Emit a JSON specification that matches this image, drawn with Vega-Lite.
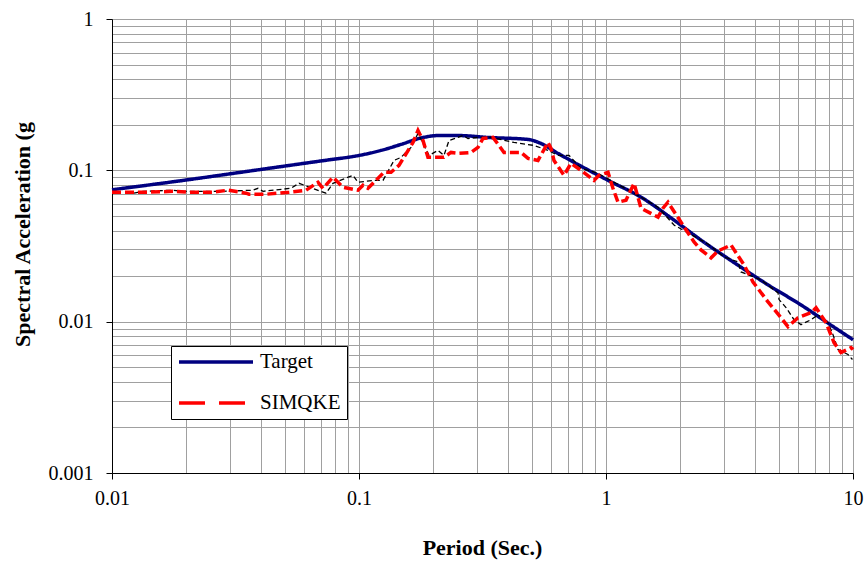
{
  "$schema": "https://vega.github.io/schema/vega-lite/v6.json",
  "width": 741,
  "height": 454,
  "autosize": "none",
  "padding": {"left": 112, "top": 19, "right": 15, "bottom": 95},
  "background": "white",
  "config": {
    "view": {"stroke": null},
    "font": "Liberation Serif",
    "axis": {
      "gridColor": "#a0a0a0",
      "gridWidth": 1,
      "gridOpacity": 1,
      "domainColor": "black",
      "domainWidth": 1,
      "tickColor": "black",
      "tickSize": 6,
      "labelFont": "Liberation Serif",
      "labelFontSize": 20,
      "labelColor": "black",
      "titleFont": "Liberation Serif",
      "titleFontSize": 22,
      "titleFontWeight": "bold",
      "titleColor": "black",
      "labelOverlap": false,
      "labelBound": false,
      "labelFlush": false
    },
    "legend": {
      "orient": "none",
      "legendX": 59,
      "legendY": 327,
      "title": null,
      "strokeColor": "black",
      "fillColor": "white",
      "padding": 6,
      "symbolType": "stroke",
      "symbolSize": 5476,
      "symbolStrokeWidth": 3.5,
      "labelFont": "Liberation Serif",
      "labelFontSize": 21,
      "labelColor": "black",
      "labelOffset": 5,
      "labelLimit": 300,
      "clipHeight": 20,
      "rowPadding": 20
    }
  },
  "datasets": {
    "target": [
      {"T": 0.01, "SA": 0.0744},
      {"T": 0.01994, "SA": 0.0863},
      {"T": 0.0401, "SA": 0.1014},
      {"T": 0.077, "SA": 0.1178},
      {"T": 0.0954, "SA": 0.1237},
      {"T": 0.1228, "SA": 0.1354},
      {"T": 0.1479, "SA": 0.1483},
      {"T": 0.1782, "SA": 0.1636},
      {"T": 0.21, "SA": 0.1698},
      {"T": 0.2518, "SA": 0.1698},
      {"T": 0.333, "SA": 0.1649},
      {"T": 0.4834, "SA": 0.16},
      {"T": 0.5455, "SA": 0.1505},
      {"T": 0.6393, "SA": 0.1294},
      {"T": 0.742, "SA": 0.1129},
      {"T": 1.019, "SA": 0.0859},
      {"T": 1.386, "SA": 0.0665},
      {"T": 1.885, "SA": 0.0469},
      {"T": 2.424, "SA": 0.0346},
      {"T": 3.297, "SA": 0.0246},
      {"T": 4.529, "SA": 0.0175},
      {"T": 6.159, "SA": 0.0129},
      {"T": 8.378, "SA": 0.0092},
      {"T": 10, "SA": 0.0076}
    ],
    "simqke": [
      {"T": 0.01, "SA": 0.0717},
      {"T": 0.01216, "SA": 0.0717},
      {"T": 0.01412, "SA": 0.0717},
      {"T": 0.01766, "SA": 0.0727},
      {"T": 0.0203, "SA": 0.0717},
      {"T": 0.02564, "SA": 0.0717},
      {"T": 0.02949, "SA": 0.0739},
      {"T": 0.03487, "SA": 0.0706},
      {"T": 0.03586, "SA": 0.0695},
      {"T": 0.04203, "SA": 0.0695},
      {"T": 0.05207, "SA": 0.0717},
      {"T": 0.061, "SA": 0.0739},
      {"T": 0.06823, "SA": 0.0834},
      {"T": 0.07149, "SA": 0.0761},
      {"T": 0.07846, "SA": 0.0899},
      {"T": 0.08613, "SA": 0.0773},
      {"T": 0.09024, "SA": 0.0761},
      {"T": 0.0991, "SA": 0.0739},
      {"T": 0.1038, "SA": 0.0797},
      {"T": 0.1087, "SA": 0.0761},
      {"T": 0.115, "SA": 0.0834},
      {"T": 0.1262, "SA": 0.097},
      {"T": 0.1348, "SA": 0.097},
      {"T": 0.1452, "SA": 0.1079},
      {"T": 0.1654, "SA": 0.1528},
      {"T": 0.1733, "SA": 0.1833},
      {"T": 0.1816, "SA": 0.1575},
      {"T": 0.1902, "SA": 0.1218},
      {"T": 0.2208, "SA": 0.1218},
      {"T": 0.2357, "SA": 0.1313},
      {"T": 0.2541, "SA": 0.1294},
      {"T": 0.2841, "SA": 0.1313},
      {"T": 0.3032, "SA": 0.1417},
      {"T": 0.3177, "SA": 0.1624},
      {"T": 0.3487, "SA": 0.1649},
      {"T": 0.3688, "SA": 0.1461},
      {"T": 0.3864, "SA": 0.1313},
      {"T": 0.4529, "SA": 0.1313},
      {"T": 0.4834, "SA": 0.1199},
      {"T": 0.5305, "SA": 0.1163},
      {"T": 0.5823, "SA": 0.1528},
      {"T": 0.5988, "SA": 0.1396},
      {"T": 0.6158, "SA": 0.1163},
      {"T": 0.6761, "SA": 0.0927},
      {"T": 0.7217, "SA": 0.1112},
      {"T": 0.792, "SA": 0.1},
      {"T": 0.8943, "SA": 0.0859},
      {"T": 0.9369, "SA": 0.0927},
      {"T": 1.019, "SA": 0.097},
      {"T": 1.067, "SA": 0.0761},
      {"T": 1.118, "SA": 0.0616},
      {"T": 1.205, "SA": 0.0635},
      {"T": 1.299, "SA": 0.0821},
      {"T": 1.386, "SA": 0.0562},
      {"T": 1.624, "SA": 0.0491},
      {"T": 1.701, "SA": 0.0562},
      {"T": 1.782, "SA": 0.0616},
      {"T": 2.012, "SA": 0.0455},
      {"T": 2.272, "SA": 0.0336},
      {"T": 2.424, "SA": 0.0298},
      {"T": 2.662, "SA": 0.0264},
      {"T": 2.841, "SA": 0.0293},
      {"T": 3.207, "SA": 0.0321},
      {"T": 3.621, "SA": 0.0237},
      {"T": 3.937, "SA": 0.0183},
      {"T": 4.529, "SA": 0.0135},
      {"T": 5.11, "SA": 0.01062},
      {"T": 5.456, "SA": 0.00927},
      {"T": 5.989, "SA": 0.01062},
      {"T": 6.761, "SA": 0.01146},
      {"T": 7.085, "SA": 0.01236},
      {"T": 7.776, "SA": 0.00985},
      {"T": 8.378, "SA": 0.00727},
      {"T": 8.942, "SA": 0.00625},
      {"T": 9.815, "SA": 0.00674},
      {"T": 10, "SA": 0.00654}
    ],
    "other": [
      {"T": 0.01228, "SA": 0.0706},
      {"T": 0.01335, "SA": 0.0727},
      {"T": 0.01766, "SA": 0.0739},
      {"T": 0.01957, "SA": 0.0727},
      {"T": 0.02564, "SA": 0.0727},
      {"T": 0.02814, "SA": 0.0727},
      {"T": 0.03722, "SA": 0.0739},
      {"T": 0.039, "SA": 0.0761},
      {"T": 0.04087, "SA": 0.0727},
      {"T": 0.05305, "SA": 0.0761},
      {"T": 0.05716, "SA": 0.0821},
      {"T": 0.07354, "SA": 0.0706},
      {"T": 0.07846, "SA": 0.0821},
      {"T": 0.09456, "SA": 0.0927},
      {"T": 0.0991, "SA": 0.0834},
      {"T": 0.115, "SA": 0.0859},
      {"T": 0.1251, "SA": 0.0859},
      {"T": 0.1386, "SA": 0.1163},
      {"T": 0.1479, "SA": 0.1218},
      {"T": 0.1624, "SA": 0.1417},
      {"T": 0.1733, "SA": 0.1752},
      {"T": 0.192, "SA": 0.1255},
      {"T": 0.2088, "SA": 0.1354},
      {"T": 0.2208, "SA": 0.1255},
      {"T": 0.2314, "SA": 0.1575},
      {"T": 0.2637, "SA": 0.1699},
      {"T": 0.2762, "SA": 0.1624},
      {"T": 0.3032, "SA": 0.1649},
      {"T": 0.3422, "SA": 0.1649},
      {"T": 0.4242, "SA": 0.1528},
      {"T": 0.511, "SA": 0.1461},
      {"T": 0.5823, "SA": 0.1354},
      {"T": 0.6393, "SA": 0.1255},
      {"T": 0.7085, "SA": 0.1255},
      {"T": 0.792, "SA": 0.1031},
      {"T": 0.9281, "SA": 0.0956},
      {"T": 1.386, "SA": 0.0665},
      {"T": 1.624, "SA": 0.0571},
      {"T": 1.885, "SA": 0.0435},
      {"T": 2.588, "SA": 0.0326},
      {"T": 3.005, "SA": 0.0268},
      {"T": 3.423, "SA": 0.0248},
      {"T": 3.52, "SA": 0.0213},
      {"T": 4.242, "SA": 0.0189},
      {"T": 4.971, "SA": 0.0155},
      {"T": 5.019, "SA": 0.014},
      {"T": 5.355, "SA": 0.0124},
      {"T": 5.769, "SA": 0.0103},
      {"T": 6.159, "SA": 0.00956},
      {"T": 6.761, "SA": 0.0103},
      {"T": 7.217, "SA": 0.0111},
      {"T": 7.92, "SA": 0.00985},
      {"T": 8.299, "SA": 0.00821},
      {"T": 8.694, "SA": 0.00654},
      {"T": 9.545, "SA": 0.00607},
      {"T": 9.95, "SA": 0.00562}
    ]
  },
  "encoding": {
    "x": {
      "field": "T",
      "type": "quantitative",
      "scale": {"type": "log", "domain": [0.01, 10], "nice": false},
      "axis": {
        "title": "Period (Sec.)",
        "values": [0.01, 0.02, 0.03, 0.04, 0.05, 0.06, 0.07, 0.08, 0.09, 0.1, 0.2, 0.3, 0.4, 0.5, 0.6, 0.7, 0.8, 0.9, 1, 2, 3, 4, 5, 6, 7, 8, 9, 10],
        "format": "~g",
        "labelExpr": "abs(log(datum.value)/LN10 - round(log(datum.value)/LN10)) < 1e-6 ? datum.label : ''",
        "tickOpacity": {"condition": {"test": "abs(log(datum.value)/LN10 - round(log(datum.value)/LN10)) < 1e-6", "value": 1}, "value": 0},
        "labelPadding": 9,
        "titleX": 370,
        "titleY": 74,
        "titleBaseline": "middle",
        "titleAnchor": "middle"
      }
    },
    "y": {
      "field": "SA",
      "type": "quantitative",
      "scale": {"type": "log", "domain": [0.001, 1], "nice": false},
      "axis": {
        "title": "Spectral Acceleration (g",
        "values": [0.001, 0.002, 0.003, 0.004, 0.005, 0.006, 0.007, 0.008, 0.009, 0.01, 0.02, 0.03, 0.04, 0.05, 0.06, 0.07, 0.08, 0.09, 0.1, 0.2, 0.3, 0.4, 0.5, 0.6, 0.7, 0.8, 0.9, 1],
        "format": "~g",
        "labelExpr": "abs(log(datum.value)/LN10 - round(log(datum.value)/LN10)) < 1e-6 ? datum.label : ''",
        "tickOpacity": {"condition": {"test": "abs(log(datum.value)/LN10 - round(log(datum.value)/LN10)) < 1e-6", "value": 1}, "value": 0},
        "labelPadding": 13,
        "titleX": -90,
        "titleY": 215,
        "titleBaseline": "middle",
        "titleAnchor": "middle"
      }
    }
  },
  "layer": [
    {
      "data": {"name": "target"},
      "transform": [{"calculate": "'Target'", "as": "series"}],
      "mark": {"type": "line", "strokeWidth": 3.5, "interpolate": "monotone"},
      "encoding": {
        "color": {
          "field": "series",
          "type": "nominal",
          "scale": {"domain": ["Target", "SIMQKE"], "range": ["#000080", "#ff0000"]}
        },
        "strokeDash": {
          "field": "series",
          "type": "nominal",
          "scale": {"domain": ["Target", "SIMQKE"], "range": [[1, 0], [26, 14]]}
        }
      }
    },
    {
      "data": {"name": "other"},
      "mark": {"type": "line", "strokeWidth": 1.3, "color": "black", "strokeDash": [5, 3]},
      "encoding": {}
    },
    {
      "data": {"name": "simqke"},
      "transform": [{"calculate": "'SIMQKE'", "as": "series"}],
      "mark": {"type": "line", "strokeWidth": 3.5, "strokeDash": [9, 4]},
      "encoding": {
        "color": {"field": "series", "type": "nominal"}
      }
    }
  ]
}
